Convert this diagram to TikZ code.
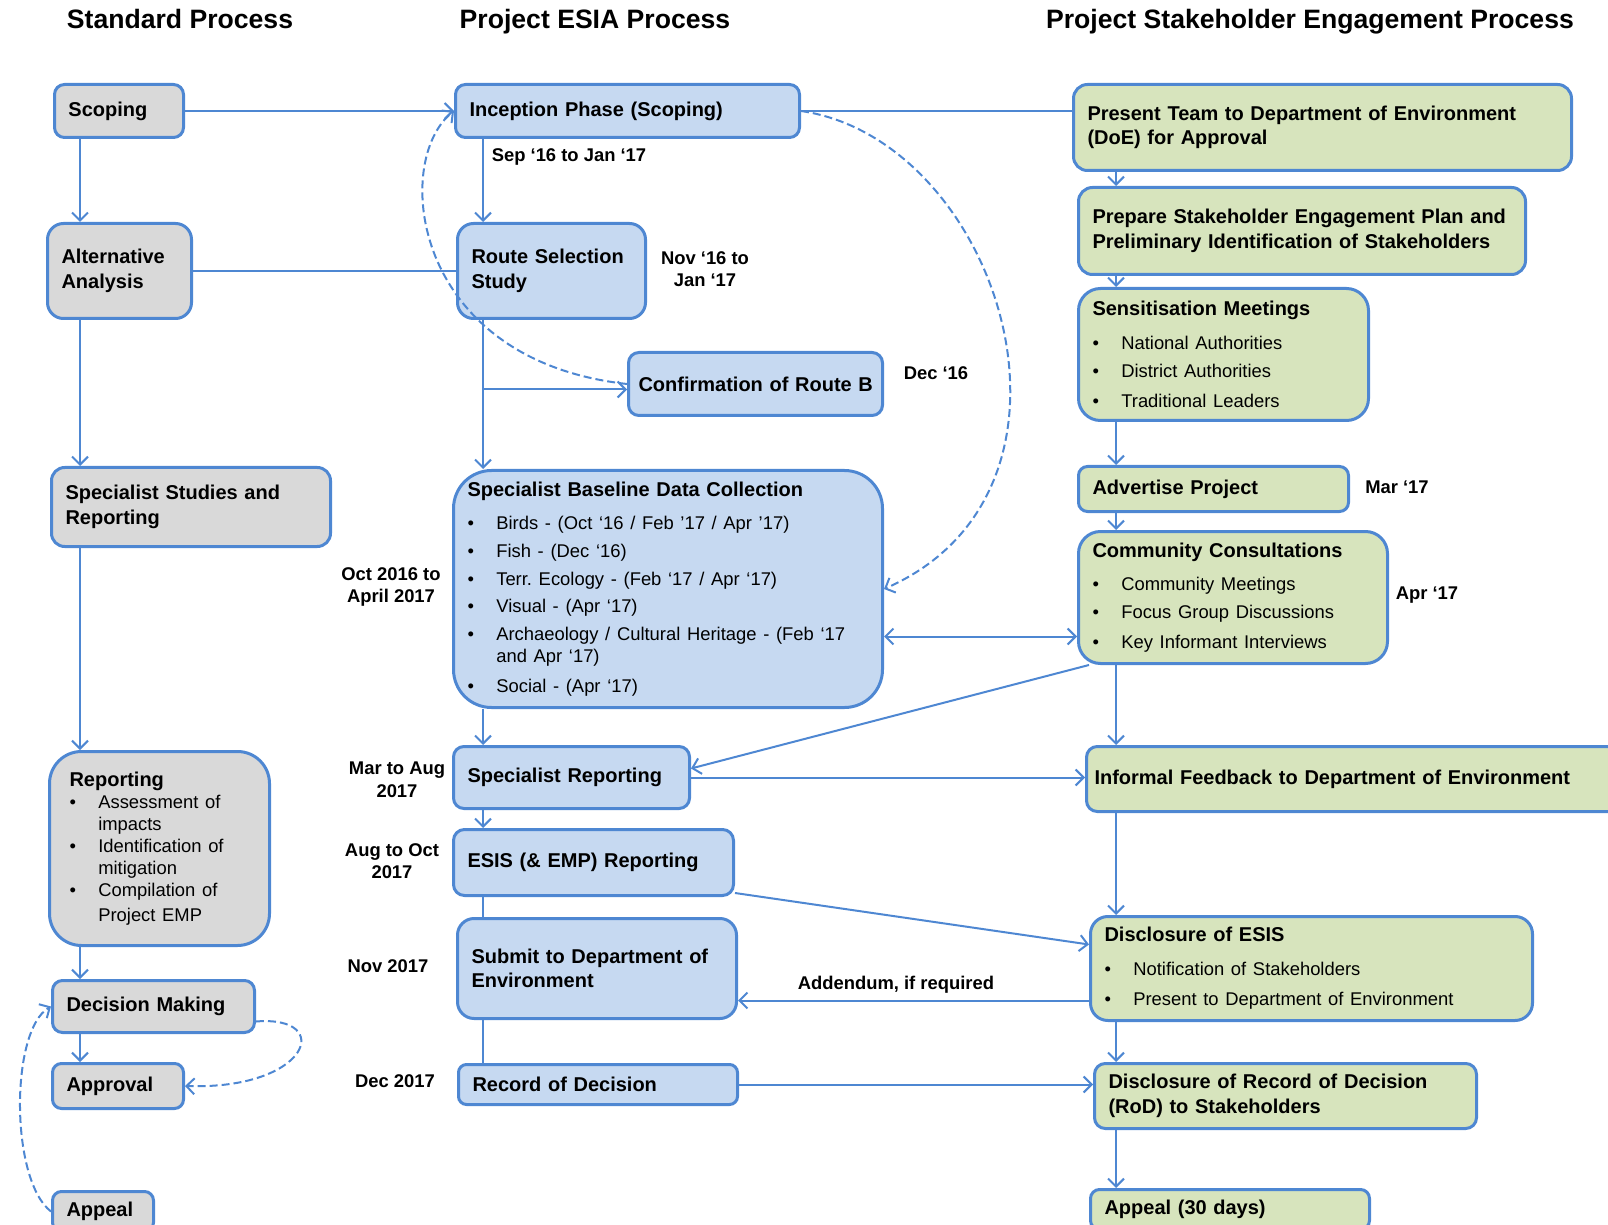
\documentclass[tikz,border=0pt]{standalone}
\usepackage{fontspec}
\setmainfont{Liberation Sans}
\usepackage{tikz}
\usetikzlibrary{arrows.meta}
\usepackage{xcolor}
\definecolor{mline}{HTML}{4E87D2}
\definecolor{mgray}{HTML}{D9D9D9}
\definecolor{mblue}{HTML}{C6D9F1}
\definecolor{mgreen}{HTML}{D7E4BD}
\frenchspacing
\newcommand{\hdfont}{\fontsize{13.3}{16}\selectfont\bfseries}
\newcommand{\bxfont}{\fontsize{10}{12.3}\selectfont\bfseries}
\newcommand{\smfont}{\fontsize{9.2}{11}\selectfont\mdseries}
\newcommand{\dtfont}{\fontsize{9.2}{11.3}\selectfont\bfseries}
\newcommand{\bitem}{\makebox[14.4pt][l]{\textbullet}}
\newcommand{\bcont}{\hspace*{14.4pt}}
\tikzstyle{box}=[draw=mline, line width=1.5, anchor=north west, align=left, inner xsep=7pt, inner ysep=0pt, font=\bxfont]
\tikzstyle{gbox}=[box, fill=mgray]
\tikzstyle{bbox}=[box, fill=mblue]
\tikzstyle{pbox}=[box, fill=mgreen]
\tikzstyle{l1}=[line width=1, color=mline]
\tikzstyle{l2}=[l1, dash pattern=on 4pt off 2pt]
\tikzstyle{date}=[font=\dtfont, align=center, text=black]
\tikzstyle{head}=[font=\hdfont, anchor=base]

\begin{document}
\begin{tikzpicture}[x=0.5pt,y=-0.5pt,>={Straight Barb[length=4pt,width=8pt]}]
    \useasboundingbox (0,0) rectangle (1608,1225);
    \clip (0,0) rectangle (1608,1225);

    \node[head] (h1) at (180,29) {Standard Process};
    \node[head] (h2) at (595,29) {Project ESIA Process};
    \node[head] (h3) at (1310,29) {Project Stakeholder Engagement Process};

    % standard process
    \node[gbox, text width=50.5pt, minimum height=26.5pt, rounded corners=5pt] (s1) at (53,83) {Scoping};
    \node[gbox, text width=58pt, minimum height=47.5pt, rounded corners=8pt] (s2) at (46,222) {Alternative\\Analysis};
    \node[gbox, text width=125.5pt, minimum height=39.5pt, rounded corners=6.6pt] (s3) at (50,466) {Specialist Studies and\\Reporting};
    \node[gbox, inner xsep=10pt, text width=90pt, minimum height=97pt, rounded corners=16pt] (s4) at (48,750) {Reporting\\\smfont\bitem Assessment of\\\bcont impacts\\\bitem Identification of\\\bcont mitigation\\\bitem Compilation of\\\bcont Project EMP};
    \node[gbox, text width=87pt, minimum height=26pt, rounded corners=5pt] (s5) at (51,979) {Decision Making};
    \node[gbox, text width=51.5pt, minimum height=22.5pt, rounded corners=4.5pt] (s6) at (51,1062) {Approval};
    \node[gbox, text width=36.5pt, minimum height=20pt, rounded corners=4.5pt] (s7) at (51,1190) {Appeal};

    % ESIA process
    \node[bbox, text width=158pt, minimum height=26.5pt, rounded corners=5pt] (e1) at (454,83) {Inception Phase (Scoping)};
    \node[bbox, text width=80pt, minimum height=47.5pt, rounded corners=8pt] (e2) at (456,222) {Route Selection\\Study};
    \node[bbox, inner xsep=5pt, text width=117pt, minimum height=31.5pt, rounded corners=5.2pt] (e3) at (627,351) {\mbox{Confirmation of Route B}};
    \node[bbox, text width=200.5pt, minimum height=118.5pt, rounded corners=19pt] (e4) at (452,469) {Specialist Baseline Data Collection\\[5.9pt]\smfont\bitem Birds - (Oct ‘16 / Feb ’17 / Apr ’17)\\[2.8pt]\bitem Fish - (Dec ‘16)\\[2.8pt]\bitem Terr. Ecology - (Feb ‘17 / Apr ‘17)\\[2.8pt]\bitem Visual - (Apr ‘17)\\[2.8pt]\bitem Archaeology / Cultural Heritage - (Feb ‘17\\\bcont and Apr ‘17)\\[2.8pt]\bitem Social - (Apr ‘17)};
    \node[bbox, text width=104pt, minimum height=31pt, rounded corners=5.2pt] (e5) at (452,745) {Specialist Reporting};
    \node[bbox, text width=126pt, minimum height=33pt, rounded corners=5.5pt] (e6) at (452,828) {ESIS (\& EMP) Reporting};
    \node[bbox, text width=125.5pt, minimum height=50pt, rounded corners=8.3pt] (e7) at (456,917) {Submit to Department of\\Environment};
    \node[bbox, text width=125.5pt, minimum height=20pt, rounded corners=4pt] (e8) at (457,1063) {Record of Decision};

    % stakeholder engagement
    \node[pbox, text width=235pt, minimum height=43pt, rounded corners=7pt] (p1) at (1072,83) {Present Team to Department of Environment\\(DoE) for Approval};
    \node[pbox, text width=209.5pt, minimum height=43.5pt, rounded corners=7pt] (p2) at (1077,186) {Prepare Stakeholder Engagement Plan and\\Preliminary Identification of Stakeholders};
    \node[pbox, text width=131pt, minimum height=66pt, rounded corners=11pt] (p3) at (1077,287) {Sensitisation Meetings\\[5.9pt]\smfont\bitem National Authorities\\[2.8pt]\bitem District Authorities\\[2.8pt]\bitem Traditional Leaders};
    \node[pbox, text width=121pt, minimum height=22.5pt, rounded corners=4.5pt] (p4) at (1077,465) {Advertise Project};
    \node[pbox, text width=140.5pt, minimum height=66pt, rounded corners=11pt] (p5) at (1077,530) {Community Consultations\\[5.9pt]\smfont\bitem Community Meetings\\[2.8pt]\bitem Focus Group Discussions\\[2.8pt]\bitem Key Informant Interviews};
    \node[pbox, inner xsep=4pt, text width=262pt, minimum height=32.5pt, rounded corners=5.4pt] (p6) at (1085,745) {Informal Feedback to Department of Environment};
    \node[pbox, text width=207pt, minimum height=52pt, rounded corners=8.7pt] (p7) at (1089,915) {Disclosure of ESIS\\[5.9pt]\smfont\bitem Notification of Stakeholders\\[2.8pt]\bitem Present to Department of Environment};
    \node[pbox, text width=177pt, minimum height=32.5pt, rounded corners=5.4pt] (p8) at (1093,1062) {Disclosure of Record of Decision\\(RoD) to Stakeholders};
    \node[pbox, text width=125.5pt, minimum height=20pt, rounded corners=4.5pt] (p9) at (1089,1188) {Appeal (30 days)};

    % dates
    \node[date] (t1) at (569,157) {Sep ‘16 to Jan ‘17};
    \node[date] (t2) at (705,269) {Nov ‘16 to\\Jan ‘17};
    \node[date] (t3) at (936,373) {Dec ‘16};
    \node[date] (t4) at (391,587) {Oct 2016 to\\April 2017};
    \node[date] (t5) at (1397,487) {Mar ‘17};
    \node[date] (t6) at (1427,595) {Apr ‘17};
    \node[date] (t7) at (397,780) {Mar to Aug\\2017};
    \node[date] (t8) at (392,861) {Aug to Oct\\2017};
    \node[date] (t9) at (388,966) {Nov 2017};
    \node[date] (t10) at (395,1081) {Dec 2017};

    \coordinate (cl) at (80,0);
    \coordinate (cm) at (483,0);
    \coordinate (cr) at (1116,0);

    \draw[l1, ->] (s1.south -| cl) -- (s2.north -| cl);
    \draw[l1, ->] (s2.south -| cl) -- (s3.north -| cl);
    \draw[l1, ->] (s3.south -| cl) -- (s4.north -| cl);
    \draw[l1, ->] (s4.south -| cl) -- (s5.north -| cl);
    \draw[l1, ->] (s5.south -| cl) -- (s6.north -| cl);

    \draw[l1, ->] (e1.south -| cm) -- (e2.north -| cm);
    \draw[l1, ->] (e2.south -| cm) -- (e4.north -| cm);
    \draw[l1, ->] ([yshift=-2.75pt]e3.west -| cm) -- ([yshift=-2.75pt]e3.west);
    \draw[l1, ->] (e4.south -| cm) -- (e5.north -| cm);
    \draw[l1, ->] (e5.south -| cm) -- (e6.north -| cm);
    \draw[l1] (e6.south -| cm) -- (e7.north -| cm);
    \draw[l1] (e7.south -| cm) -- (e8.north -| cm);

    \draw[l1, ->] (p1.south -| cr) -- (p2.north -| cr);
    \draw[l1, ->] (p2.south -| cr) -- (p3.north -| cr);
    \draw[l1, ->] (p3.south -| cr) -- (p4.north -| cr);
    \draw[l1, ->] (p4.south -| cr) -- (p5.north -| cr);
    \draw[l1, ->] (p5.south -| cr) -- (p6.north -| cr);
    \draw[l1, ->] (p6.south -| cr) -- (p7.north -| cr);
    \draw[l1, ->] (p7.south -| cr) -- (p8.north -| cr);
    \draw[l1, ->] (p8.south -| cr) -- (p9.north -| cr);

    \draw[l1, ->] (s1.east) -- (e1.west);
    \draw[l1] (e1.east) -- (e1.east -| p1.west);
    \draw[l1] (s2.east) -- (e2.west);
    \draw[l1, <->] ([yshift=-23.75pt]e4.east) -- ([yshift=-23.75pt]e4.east -| p5.west);
    \draw[l1, ->] ([xshift=6pt]p5.south west) -- ([yshift=4.5pt]e5.east);
    \draw[l1, ->] (e5.east) -- (e5.east -| p6.west);
    \draw[l1, ->] ([yshift=2pt]e6.south east) -- ([yshift=12pt]p7.west);
    \draw[l1, ->] ([yshift=-16pt]p7.west) -- ([yshift=-16pt]p7.west -| e7.east) node[date, above, pos=0.55] (ad) {Addendum, if required};
    \draw[l1, ->] (e8.east) -- (e8.east -| p8.west);

    \draw[l2, ->] (e3.west) .. controls (410,360) and (392,160) .. (e1.west);
    \draw[l2, ->] (e1.east) .. controls (1000,140) and (1110,490) .. (e4.east);
    \draw[l2, ->] ([yshift=-7.5pt]s5.east) .. controls (335,1015) and (310,1090) .. (s6.east);
    \draw[l2, ->] (s7.west) .. controls (10,1180) and (10,1030) .. (s5.west);
\end{tikzpicture}
\end{document}
